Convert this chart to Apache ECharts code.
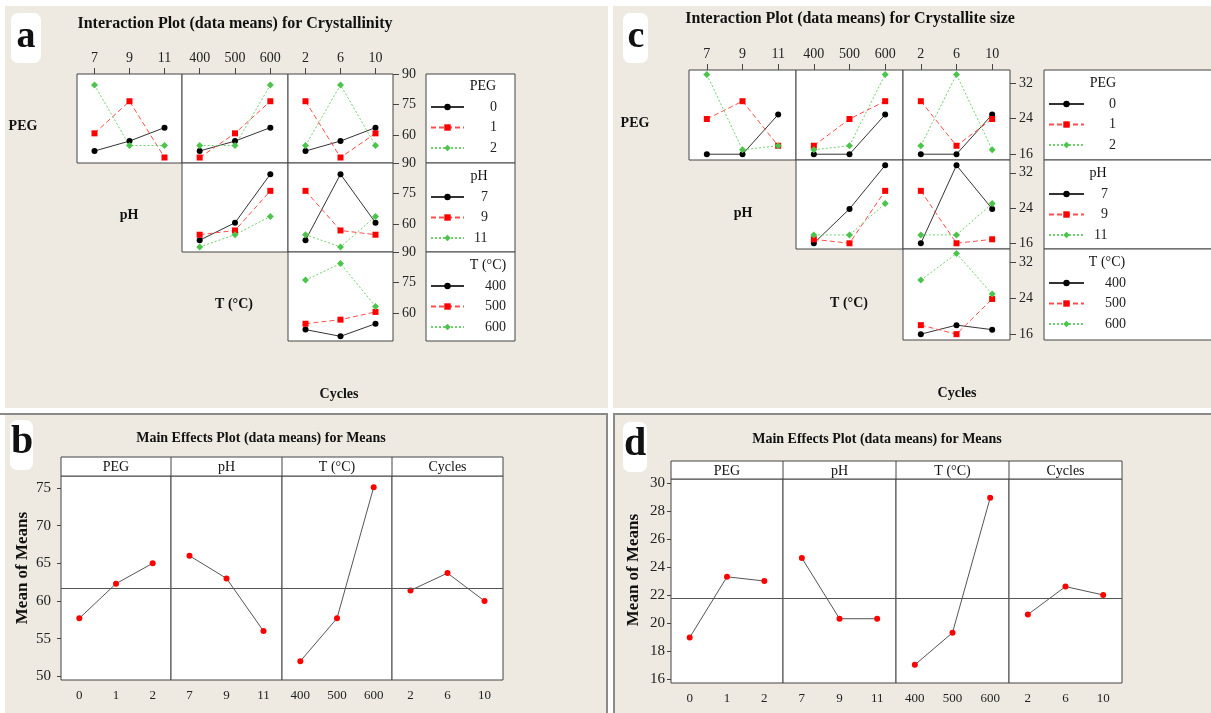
<!DOCTYPE html>
<html>
<head>
<meta charset="utf-8">
<script src="https://cdn.jsdelivr.net/npm/echarts@6/dist/echarts.min.js"></script>
<style>
html, body { margin: 0; padding: 0; background: #fff; }
#main { width: 1211px; height: 713px; }
</style>
</head>
<body>
<div id="main"></div>
<script>
const pegLevels = ['0', '1', '2']
const phLevels = ['7', '9', '11']
const tLevels = ['400', '500', '600']
const cycleLevels = ['2', '6', '10']

// a - crystallinity, one row per level of the legend factor
const crystPegVsPh = [[52.1, 57.0, 63.6], [60.8, 76.6, 48.9], [84.6, 54.8, 54.8]]
const crystPegVsT = [[52.1, 57.0, 63.6], [48.9, 60.8, 76.6], [54.8, 54.8, 84.6]]
const crystPegVsCycles = [[52.1, 57.0, 63.6], [76.6, 48.9, 60.8], [54.8, 84.6, 54.8]]
const crystPhVsT = [[52.0, 60.6, 84.5], [54.7, 56.8, 76.3], [48.7, 54.7, 63.7]]
const crystPhVsCycles = [[52.0, 84.5, 60.6], [76.3, 56.8, 54.7], [54.7, 48.7, 63.7]]
const crystTVsCycles = [[51.8, 48.5, 54.7], [54.7, 56.7, 60.5], [76.2, 84.3, 63.2]]
const crystTicks = [60, 75, 90]

// c - crystallite size
const sizePegVsPh = [[16.0, 16.0, 24.9], [23.9, 27.9, 17.9], [33.9, 17.0, 17.9]]
const sizePegVsT = [[16.0, 16.0, 24.9], [17.9, 23.9, 27.9], [17.0, 17.9, 33.9]]
const sizePegVsCycles = [[16.0, 16.0, 24.9], [27.9, 17.9, 23.9], [17.9, 33.9, 17.0]]
const sizePhVsT = [[16.0, 23.8, 33.7], [16.9, 16.0, 27.9], [17.9, 17.9, 25.0]]
const sizePhVsCycles = [[16.0, 33.7, 23.8], [27.9, 16.0, 16.9], [17.9, 17.9, 25.0]]
const sizeTVsCycles = [[16.0, 18.0, 17.0], [18.0, 16.0, 23.8], [28.0, 33.9, 24.9]]
const sizeTicks = [16, 24, 32]

// b / d - main effects
const meansCrystPeg = [57.7, 62.3, 65.0]
const meansCrystPh = [66.0, 63.0, 56.0]
const meansCrystT = [52.0, 57.7, 75.1]
const meansCrystCycles = [61.4, 63.7, 60.0]
const meanCryst = 61.7
const crystMeanTicks = [50, 55, 60, 65, 70, 75]

const meansSizePeg = [18.95, 23.3, 23.0]
const meansSizePh = [24.65, 20.3, 20.3]
const meansSizeT = [17.0, 19.3, 28.95]
const meansSizeCycles = [20.6, 22.6, 22.0]
const meanSize = 21.75
const sizeMeanTicks = [16, 18, 20, 22, 24, 26, 28, 30]

const serif = 'Liberation Serif'
const beige = '#EEEAE1'
const frame = '#444'
const lineLooks = [
    { line: '#333', type: 'solid', symbol: 'circle', fill: '#000', size: 6 },
    { line: '#ff4d4d', type: [5, 3], symbol: 'rect', fill: '#ff0000', size: 6 },
    { line: '#70d070', type: [2, 2], symbol: 'diamond', fill: '#4cc44c', size: 7 }
]

let grids = [], xAxes = [], yAxes = [], series = [], legends = [], graphics = []

function text (str, x, y, size, bold, rotation) {
    graphics.push({
        type: 'text', z: 5, x: x, y: y, rotation: rotation || 0,
        style: {
            text: str, x: 0, y: 0, fill: '#111',
            font: (bold ? 'bold ' : '') + size + 'px "' + serif + '"',
            textAlign: 'center', textVerticalAlign: 'middle', align: 'center', verticalAlign: 'middle'
        }
    })
}

function rect (x, y, w, h, fill, stroke, r, z) {
    graphics.push({
        type: 'rect', z: z === undefined ? -10 : z,
        shape: { x: x, y: y, width: w, height: h, r: r || 0 },
        style: { fill: fill, stroke: stroke || null, lineWidth: stroke ? 1 : 0 }
    })
}

function interactionPlot (cols, rows, yMin, yMax, ticks, cells) {
    cells.forEach((cell) => {
        const idx = grids.length
        const showTop = cell.r === 0
        const showRight = cell.c === 2
        grids.push({
            left: cols[cell.c], top: rows[cell.r],
            width: cols[cell.c + 1] - cols[cell.c], height: rows[cell.r + 1] - rows[cell.r],
            show: true, backgroundColor: '#fff', borderColor: frame, borderWidth: 1
        })
        xAxes.push({
            gridIndex: idx, type: 'category', data: cell.cats, position: 'top', boundaryGap: true,
            axisLine: { show: false },
            axisTick: { show: showTop, alignWithLabel: true, length: 6, lineStyle: { color: frame } },
            axisLabel: { show: showTop, margin: 9, color: '#222', fontFamily: serif, fontSize: 14 }
        })
        yAxes.push({
            gridIndex: idx, type: 'value', position: 'right', min: yMin, max: yMax,
            axisLine: { show: false }, splitLine: { show: false },
            axisTick: { show: showRight, customValues: ticks, length: 6, lineStyle: { color: frame } },
            axisLabel: { show: showRight, customValues: ticks, margin: 9, color: '#222', fontFamily: serif, fontSize: 14 }
        })
        cell.data.forEach((vals, i) => {
            const look = lineLooks[i]
            series.push({
                type: 'line', name: cell.names[i], xAxisIndex: idx, yAxisIndex: idx, data: vals,
                symbol: look.symbol, symbolSize: look.size, silent: true,
                lineStyle: { color: look.line, type: look.type, width: 1 },
                itemStyle: { color: look.fill }
            })
        })
    })
}

function legendBlock (left, top, names, pads, iconW) {
    legends.push({
        left: left, top: top, orient: 'vertical', padding: 0, selectedMode: false,
        itemWidth: iconW, itemHeight: 8, itemGap: 4.5,
        data: names.map((n, i) => ({ name: n, textStyle: { padding: [0, 0, 0, pads[i]] } })),
        textStyle: { fontFamily: serif, fontSize: 14, color: '#222', lineHeight: 16 }
    })
}

function mainEffects (cols, top, bottom, headTop, yMin, yMax, ticks, groups, mean, labelMargin) {
    const heads = ['PEG', 'pH', 'T (°C)', 'Cycles']
    rect(cols[0], headTop, cols[4] - cols[0], top - headTop, '#fff', frame, 0, 1)
    groups.forEach((g, k) => {
        const idx = grids.length
        grids.push({
            left: cols[k], top: top, width: cols[k + 1] - cols[k], height: bottom - top,
            show: true, backgroundColor: '#fff', borderColor: frame, borderWidth: 1
        })
        if (k > 0) {
            graphics.push({ type: 'line', z: 2, shape: { x1: cols[k], y1: headTop, x2: cols[k], y2: top }, style: { stroke: frame, lineWidth: 1 } })
        }
        text(heads[k], (cols[k] + cols[k + 1]) / 2, (headTop + top) / 2 + 1, 14, false)
        xAxes.push({
            gridIndex: idx, type: 'category', data: g.cats, boundaryGap: true,
            axisLine: { show: false },
            axisTick: { alignWithLabel: true, length: 4, lineStyle: { color: frame } },
            axisLabel: { margin: 9, color: '#222', fontFamily: serif, fontSize: 13 }
        })
        yAxes.push({
            gridIndex: idx, type: 'value', min: yMin, max: yMax, show: k === 0,
            axisLine: { show: false }, splitLine: { show: false },
            axisTick: { show: k === 0, customValues: ticks, length: 4, lineStyle: { color: frame } },
            axisLabel: { customValues: ticks, margin: labelMargin, color: '#222', fontFamily: serif, fontSize: 15 }
        })
        series.push({
            type: 'line', name: 'means-' + idx, xAxisIndex: idx, yAxisIndex: idx, data: g.vals,
            symbol: 'circle', symbolSize: 6, silent: true,
            lineStyle: { color: '#555', width: 1 }, itemStyle: { color: '#ff0000' },
            markLine: {
                silent: true, symbol: 'none', label: { show: false },
                lineStyle: { color: '#555', type: 'solid', width: 1 },
                data: [{ yAxis: mean }]
            }
        })
    })
}

// panel backgrounds
rect(5, 6, 603, 402, beige)
rect(613, 6, 598, 402, beige)
rect(5, 413, 603, 300, beige)
rect(613, 413, 598, 300, beige)
graphics.push({ type: 'polyline', z: -9, shape: { points: [[0, 414], [607, 414], [607, 713]] }, style: { stroke: '#8a8a8a', lineWidth: 2, fill: null } })
graphics.push({ type: 'polyline', z: -9, shape: { points: [[614, 713], [614, 414], [1211, 414]] }, style: { stroke: '#8a8a8a', lineWidth: 2, fill: null } })

// panel letters
rect(11, 13, 30, 50, '#fff', null, 7, -5)
text('a', 26, 37, 38, true)
rect(623, 13, 25, 50, '#fff', null, 7, -5)
text('c', 636, 37, 38, true)
rect(10, 420, 23, 50, '#fff', null, 7, -5)
text('b', 22, 443, 40, true)
rect(623, 422, 24, 50, '#fff', null, 7, -5)
text('d', 635, 445, 40, true)

// a: interaction plot for crystallinity
text('Interaction Plot (data means) for Crystallinity', 235, 24, 16, true)
interactionPlot([77, 182, 288, 393], [74, 163, 252, 341], 46.2, 90, crystTicks, [
    { r: 0, c: 0, cats: phLevels, names: pegLevels, data: crystPegVsPh },
    { r: 0, c: 1, cats: tLevels, names: pegLevels, data: crystPegVsT },
    { r: 0, c: 2, cats: cycleLevels, names: pegLevels, data: crystPegVsCycles },
    { r: 1, c: 1, cats: tLevels, names: phLevels, data: crystPhVsT },
    { r: 1, c: 2, cats: cycleLevels, names: phLevels, data: crystPhVsCycles },
    { r: 2, c: 2, cats: cycleLevels, names: tLevels, data: crystTVsCycles }
])
text('PEG', 23, 126, 14, true)
text('pH', 129, 215, 14, true)
text('T (°C)', 234, 304, 14, true)
text('Cycles', 339, 394, 14, true)
rect(426, 74, 89, 89, '#fff', frame, 0, 1)
rect(426, 163, 89, 89, '#fff', frame, 0, 1)
rect(426, 252, 89, 89, '#fff', frame, 0, 1)
text('PEG', 483, 86, 14, false)
text('pH', 479, 176, 14, false)
text('T (°C)', 488, 265, 14, false)
legendBlock(430, 99, pegLevels, [21, 21, 21], 33)
legendBlock(430, 189, phLevels, [12, 12, 5], 33)
legendBlock(430, 278, tLevels, [16, 16, 16], 33)

// c: interaction plot for crystallite size
text('Interaction Plot (data means) for Crystallite size', 850, 19, 16, true)
interactionPlot([689, 796, 903, 1010], [70, 160, 249, 340], 14.7, 34.9, sizeTicks, [
    { r: 0, c: 0, cats: phLevels, names: pegLevels, data: sizePegVsPh },
    { r: 0, c: 1, cats: tLevels, names: pegLevels, data: sizePegVsT },
    { r: 0, c: 2, cats: cycleLevels, names: pegLevels, data: sizePegVsCycles },
    { r: 1, c: 1, cats: tLevels, names: phLevels, data: sizePhVsT },
    { r: 1, c: 2, cats: cycleLevels, names: phLevels, data: sizePhVsCycles },
    { r: 2, c: 2, cats: cycleLevels, names: tLevels, data: sizeTVsCycles }
])
text('PEG', 635, 123, 14, true)
text('pH', 743, 213, 14, true)
text('T (°C)', 849, 303, 14, true)
text('Cycles', 957, 393, 14, true)
rect(1044, 70, 180, 90, '#fff', frame, 0, 1)
rect(1044, 160, 180, 89, '#fff', frame, 0, 1)
rect(1044, 249, 180, 91, '#fff', frame, 0, 1)
text('PEG', 1103, 83, 14, false)
text('pH', 1098, 173, 14, false)
text('T (°C)', 1107, 262, 14, false)
legendBlock(1048, 96, pegLevels, [20, 20, 20], 35)
legendBlock(1048, 186, phLevels, [12, 12, 5], 35)
legendBlock(1048, 275, tLevels, [16, 16, 16], 35)

// b: main effects for crystallinity
text('Main Effects Plot (data means) for Means', 261, 438, 14, true)
text('Mean of Means', 23, 568, 17, true, Math.PI / 2)
mainEffects([61, 171, 282, 392, 503], 476, 680, 457, 49.5, 76.6, crystMeanTicks, [
    { cats: pegLevels, vals: meansCrystPeg },
    { cats: phLevels, vals: meansCrystPh },
    { cats: tLevels, vals: meansCrystT },
    { cats: cycleLevels, vals: meansCrystCycles }
], meanCryst, 10)

// d: main effects for crystallite size
text('Main Effects Plot (data means) for Means', 877, 439, 14, true)
text('Mean of Means', 634, 570, 17, true, Math.PI / 2)
mainEffects([671, 783, 896, 1009, 1122], 479, 683, 461, 15.7, 30.3, sizeMeanTicks, [
    { cats: pegLevels, vals: meansSizePeg },
    { cats: phLevels, vals: meansSizePh },
    { cats: tLevels, vals: meansSizeT },
    { cats: cycleLevels, vals: meansSizeCycles }
], meanSize, 6)

let myChart = echarts.init(document.getElementById('main'))
let option = {
    animation: false,
    backgroundColor: '#fff',
    textStyle: { fontFamily: serif },
    grid: grids,
    xAxis: xAxes,
    yAxis: yAxes,
    legend: legends,
    series: series,
    graphic: { elements: graphics }
}
myChart.setOption(option)
</script>
</body>
</html>
